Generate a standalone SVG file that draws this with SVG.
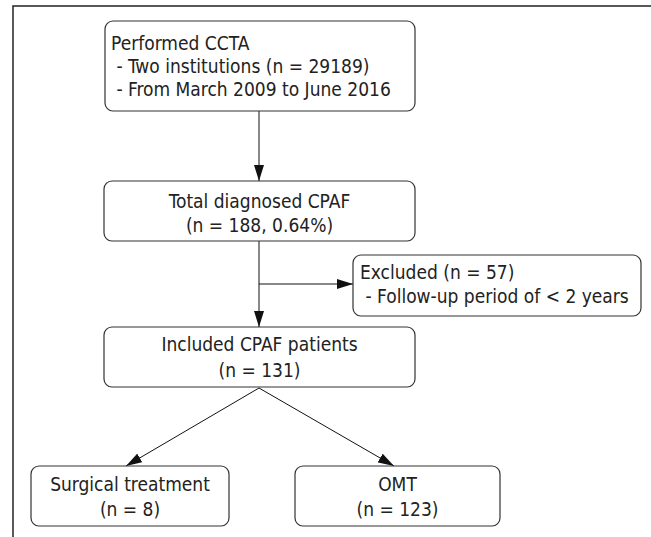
<svg xmlns="http://www.w3.org/2000/svg" width="651" height="537" viewBox="0 0 651 537">
<style>
.box{fill:#fff;stroke:#333;stroke-width:1.2}
.t{font-family:"DejaVu Sans Condensed","DejaVu Sans",sans-serif;font-stretch:condensed;font-size:19px;fill:#222}
.c{text-anchor:middle}
.ln{stroke:#111;stroke-width:1;fill:none}
.frame{stroke:#222;stroke-width:1.5;fill:none}
</style>
<defs>
<marker id="ah" viewBox="0 0 16 10" refX="16" refY="5" markerWidth="16" markerHeight="10" markerUnits="userSpaceOnUse" orient="auto">
<path d="M0,0 L16,5 L0,10 Z" fill="#111"/>
</marker>
</defs>
<rect width="651" height="537" fill="#fff"/>
<path class="frame" d="M13,537 V6 H651"/>
<g id="connectors">
<line class="ln" x1="259" y1="111" x2="259" y2="181" marker-end="url(#ah)"/>
<line class="ln" x1="259" y1="241" x2="259" y2="327" marker-end="url(#ah)"/>
<line class="ln" x1="259" y1="284" x2="353" y2="284" marker-end="url(#ah)"/>
<line class="ln" x1="259" y1="388" x2="126" y2="466" marker-end="url(#ah)"/>
<line class="ln" x1="259" y1="388" x2="394" y2="466" marker-end="url(#ah)"/>
</g>
<g id="performed">
<rect class="box" x="105" y="21" width="310" height="90" rx="8"/>
<text class="t" x="111" y="50">Performed CCTA</text>
<text class="t" x="111" y="73" xml:space="preserve"> - Two institutions (n = 29189)</text>
<text class="t" x="111" y="96" xml:space="preserve"> - From March 2009 to June 2016</text>
</g>
<g id="total">
<rect class="box" x="104" y="181" width="311" height="60" rx="8"/>
<text class="t c" x="259.5" y="208">Total diagnosed CPAF</text>
<text class="t c" x="259.5" y="232">(n = 188, 0.64%)</text>
</g>
<g id="excluded">
<rect class="box" x="353" y="255" width="288" height="61" rx="8"/>
<text class="t" x="360" y="279">Excluded (n = 57)</text>
<text class="t" x="360" y="303" xml:space="preserve"> - Follow-up period of &lt; 2 years</text>
</g>
<g id="included">
<rect class="box" x="104" y="327" width="311" height="60" rx="8"/>
<text class="t c" x="259.5" y="351">Included CPAF patients</text>
<text class="t c" x="259.5" y="377">(n = 131)</text>
</g>
<g id="surgical">
<rect class="box" x="31" y="466" width="198" height="60" rx="8"/>
<text class="t c" x="130" y="491">Surgical treatment</text>
<text class="t c" x="130" y="516">(n = 8)</text>
</g>
<g id="omt">
<rect class="box" x="295" y="466" width="205" height="60" rx="8"/>
<text class="t c" x="397.5" y="491">OMT</text>
<text class="t c" x="397.5" y="516">(n = 123)</text>
</g>
</svg>
